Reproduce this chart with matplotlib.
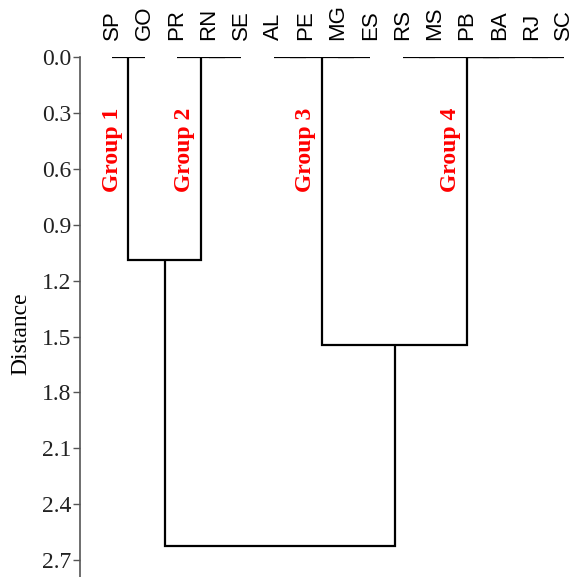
import matplotlib
matplotlib.use("Agg")
import matplotlib.pyplot as plt

# leaf order along the top of the dendrogram
leaves = ["SP", "GO", "PR", "RN", "SE", "AL", "PE", "MG", "ES",
          "RS", "MS", "PB", "BA", "RJ", "SC"]

# each node: (left, right, merge distance); leaves are plain strings
group1 = ("SP", "GO", 0.0)
group2 = ("PR", ("RN", "SE", 0.0), 0.0)
group3 = (("AL", "PE", 0.0), ("MG", "ES", 0.0), 0.0)
group4 = (("RS", "MS", 0.0), (("PB", "BA", 0.0), ("RJ", "SC", 0.0), 0.0), 0.0)

dist_12 = 1.09
dist_34 = 1.545
dist_all = 2.625

tree = ((group1, group2, dist_12), (group3, group4, dist_34), dist_all)

group_names = ["Group 1", "Group 2", "Group 3", "Group 4"]
yticks = [0.0, 0.3, 0.6, 0.9, 1.2, 1.5, 1.8, 2.1, 2.4, 2.7]

fig = plt.figure(figsize=(5.82, 5.77), dpi=100)
ax = fig.add_axes([0.1375, -0.003, 0.859, 0.904])


def draw(node):
    # returns (x position, height) of the node, drawing its link
    if isinstance(node, str):
        return leaves.index(node), 0.0
    left, right, h = node
    xl, hl = draw(left)
    xr, hr = draw(right)
    ax.plot([xl, xl, xr, xr], [hl, h, h, hr], color="black", lw=1.6,
            solid_joinstyle="miter", solid_capstyle="butt")
    return (xl + xr) / 2, h


draw(tree)

# group labels
label_x = [0.0, 2.25, 6.0, 10.5]
for name, gx in zip(group_names, label_x):
    ax.text(gx, 0.5, name, rotation=90, ha="center", va="center",
            color="red", fontsize=17, fontweight="bold", family="Liberation Serif")

ax.set_xlim(-1, 14.5)
ax.set_ylim(2.8, 0)

ax.xaxis.tick_top()
ax.set_xticks(range(len(leaves)))
ax.set_xticklabels(leaves, rotation=90, fontsize=16, family="Liberation Sans")
ax.tick_params(axis="x", length=0, pad=12)

ax.set_yticks(yticks)
ax.set_yticklabels([f"{v:.1f}" for v in yticks], fontsize=17,
                   family="Liberation Serif", color="#222222")
ax.tick_params(axis="y", length=5, width=1, color="#555555", pad=1)
ax.set_ylabel("Distance", fontsize=17, family="Liberation Serif")
ax.yaxis.set_label_coords(-0.098, 0.47)

for side in ["top", "right", "bottom"]:
    ax.spines[side].set_visible(False)
ax.spines["left"].set_color("#555555")
ax.spines["left"].set_linewidth(1.2)

fig.savefig("out.png", dpi=100)
